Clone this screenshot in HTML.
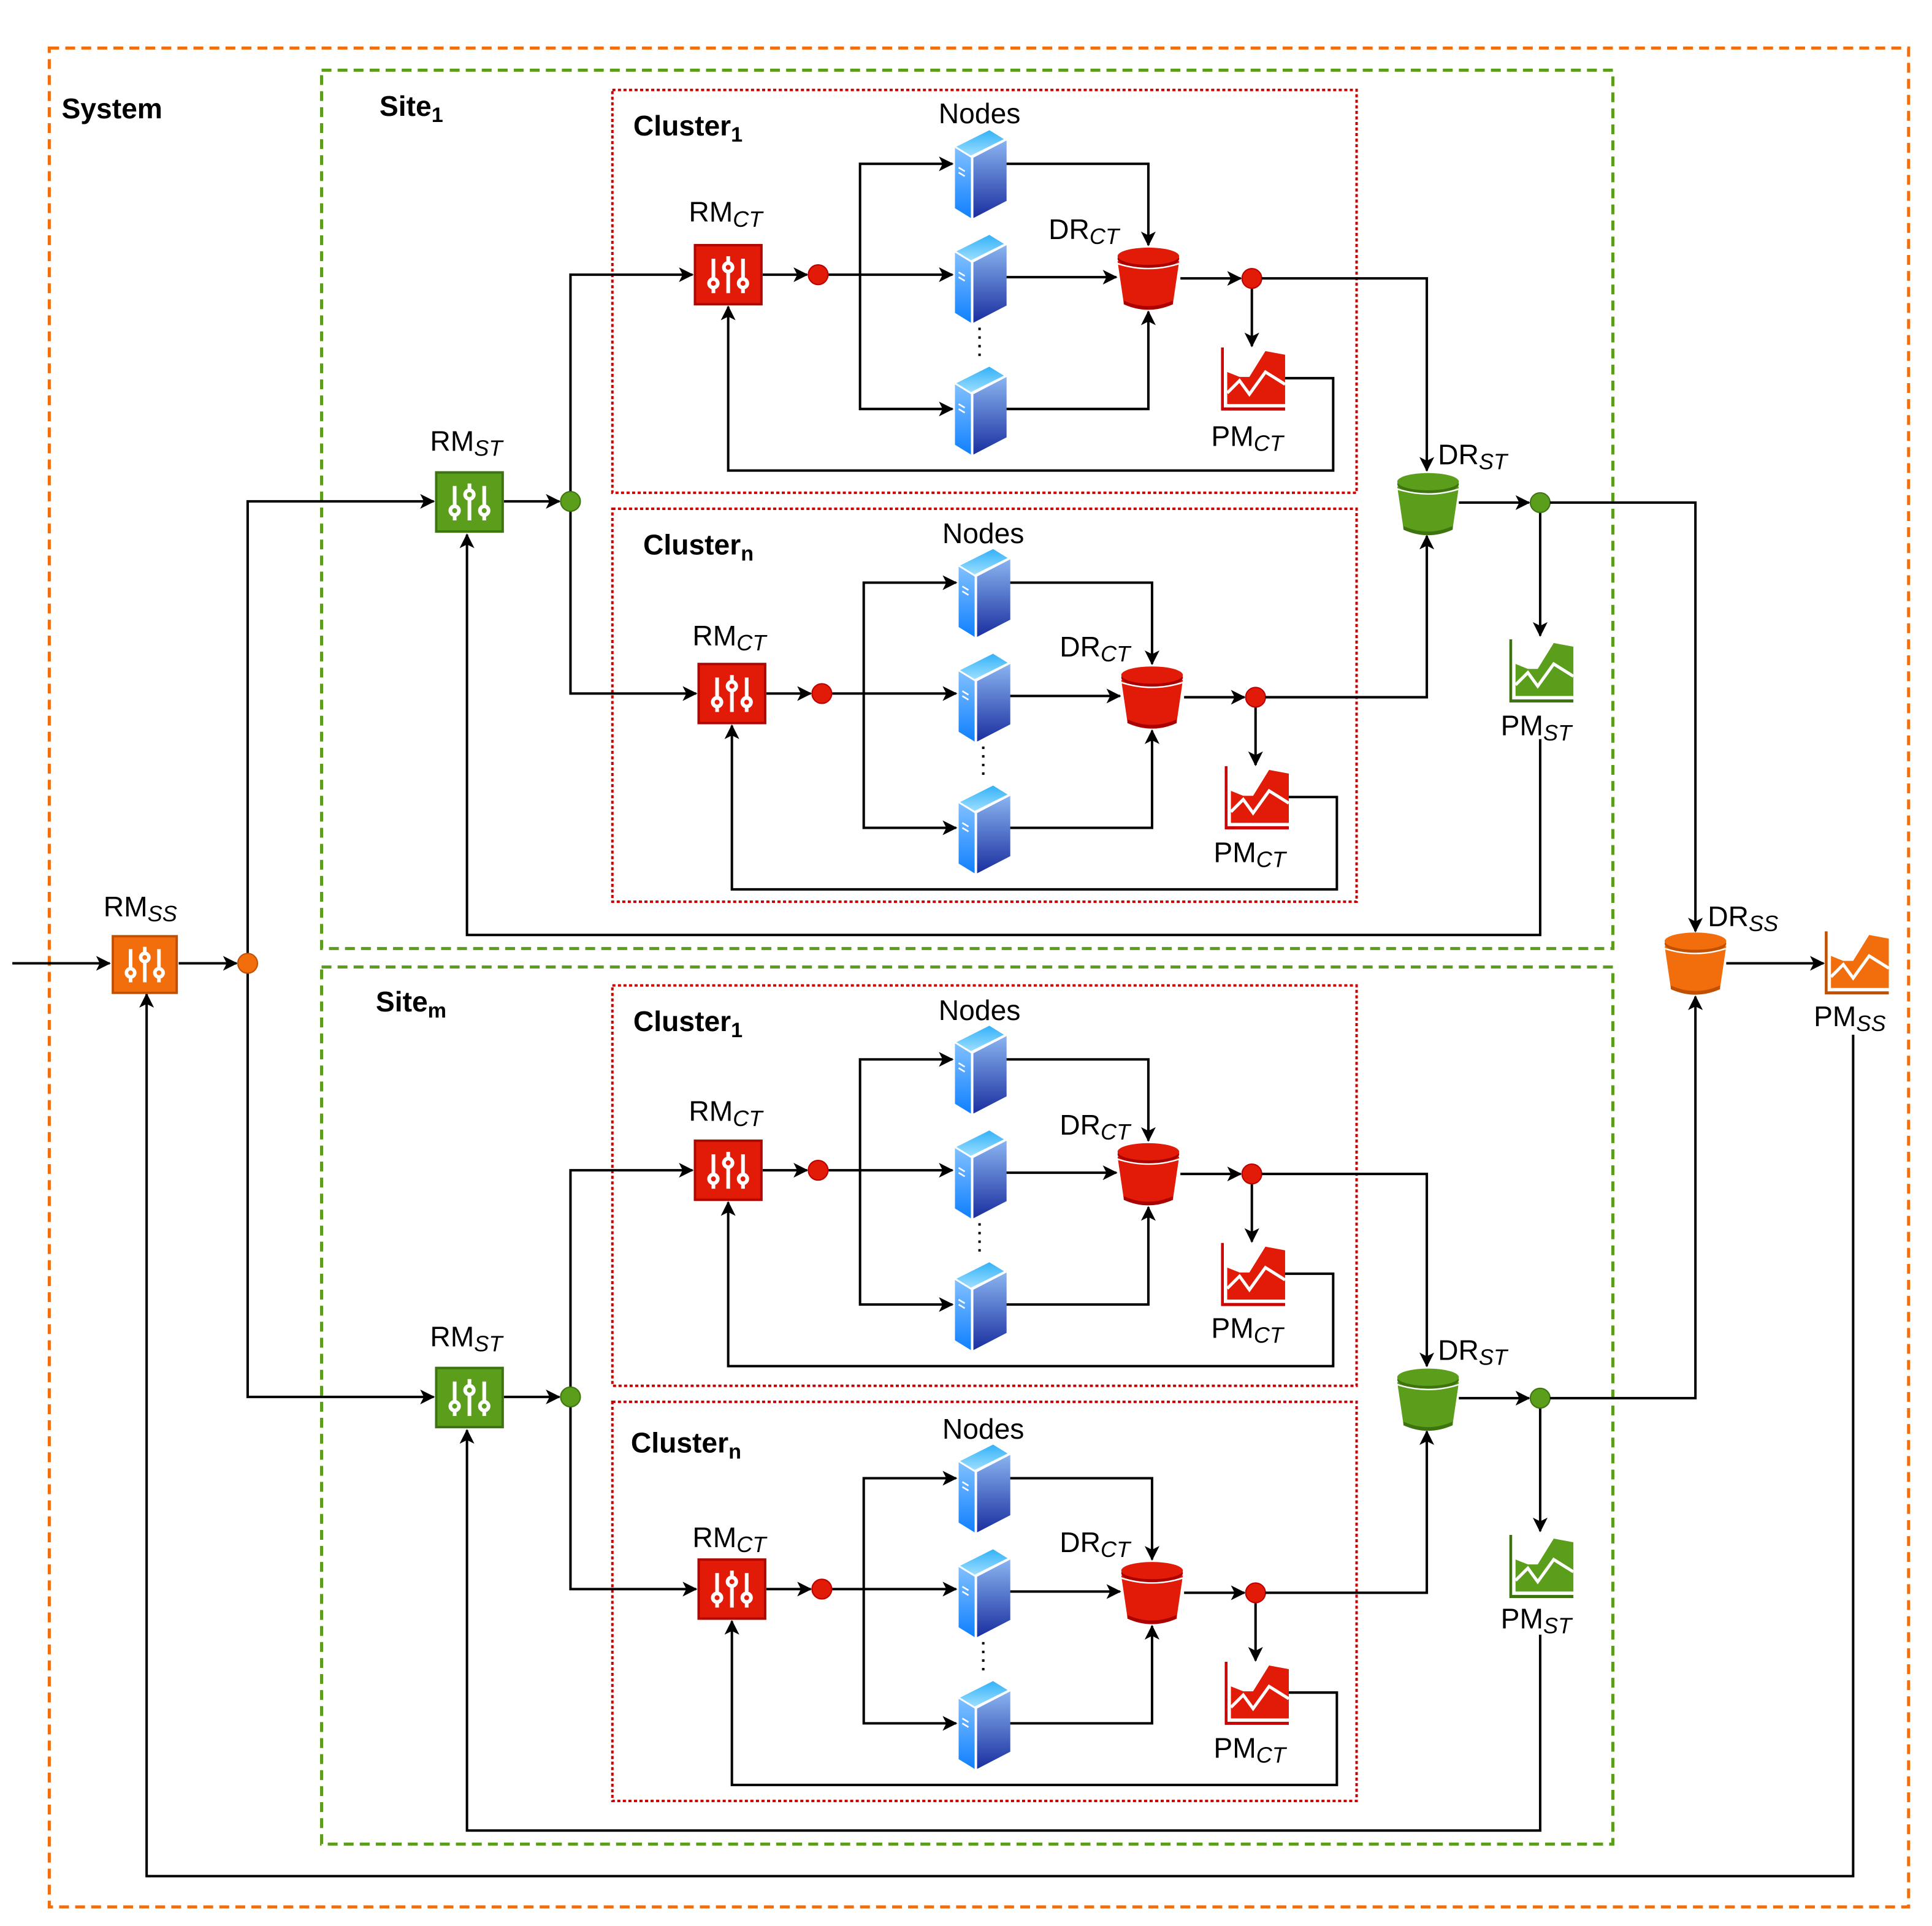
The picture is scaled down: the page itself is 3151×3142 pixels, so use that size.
<!DOCTYPE html>
<html><head><meta charset="utf-8"><style>
html,body{margin:0;padding:0;background:#fff}
svg{display:block}
text{font-family:"Liberation Sans",sans-serif;fill:#000}
.lb{font-size:23px}
.bd{font-size:23px;font-weight:bold}
.sub{font-size:18px;font-style:italic}
.bs{font-size:17px;font-weight:bold}
.ln{fill:none;stroke:#000;stroke-width:2}
.ar{fill:none;stroke:#000;stroke-width:2;marker-end:url(#ah)}
.cb{fill:none;stroke:#c00;stroke-width:2;stroke-dasharray:2.5 2}
</style></head><body>
<svg width="3151" height="3142" viewBox="0 0 1568 1563.5" preserveAspectRatio="none" xmlns="http://www.w3.org/2000/svg">
<defs>
<marker id="ah" markerUnits="userSpaceOnUse" markerWidth="12" markerHeight="12" refX="11" refY="6" orient="auto"><path d="M0,0 L12,6 L0,12 L3,6 Z" fill="#000"/></marker>
<linearGradient id="gs" x1="0" y1="0" x2="0" y2="1"><stop offset="0" stop-color="#8ab4f0"/><stop offset="1" stop-color="#1a2fa0"/></linearGradient>
<linearGradient id="gl" x1="0" y1="0" x2="0" y2="1"><stop offset="0" stop-color="#80c0ff"/><stop offset="1" stop-color="#1080ff"/></linearGradient>
<linearGradient id="gt" x1="0" y1="0" x2="0" y2="1"><stop offset="0" stop-color="#30b0f8"/><stop offset="1" stop-color="#a0e0ff"/></linearGradient>
<symbol id="srv" viewBox="0 0 42 72">
<polygon points="0,14 28,0 41,8 13,22" fill="url(#gt)" stroke="#fff" stroke-width="1.2"/>
<polygon points="0,15 13,23 13,72 0,64" fill="url(#gl)"/>
<polygon points="15,23 42,9 42,58 15,72" fill="url(#gs)"/>
<line x1="3" y1="31" x2="8" y2="34" stroke="#fff" stroke-width="1.3"/>
<line x1="3" y1="35" x2="8" y2="38" stroke="#fff" stroke-width="1.3"/>
</symbol>
<symbol id="rmR" viewBox="0 0 56 50"><rect x="1" y="1" width="54" height="48" fill="#e21a08" stroke="#b00800" stroke-width="2"/><g stroke="#fff" stroke-width="3" fill="#e21a08"><line x1="16" y1="12" x2="16" y2="40"/><line x1="28" y1="10" x2="28" y2="40"/><line x1="40" y1="12" x2="40" y2="40"/><circle cx="16" cy="32" r="3.5"/><circle cx="28" cy="19" r="3.5"/><circle cx="40" cy="32" r="3.5"/></g></symbol>
<symbol id="rmG" viewBox="0 0 56 50"><rect x="1" y="1" width="54" height="48" fill="#5a9e1c" stroke="#3d7410" stroke-width="2"/><g stroke="#fff" stroke-width="3" fill="#5a9e1c"><line x1="16" y1="12" x2="16" y2="40"/><line x1="28" y1="10" x2="28" y2="40"/><line x1="40" y1="12" x2="40" y2="40"/><circle cx="16" cy="32" r="3.5"/><circle cx="28" cy="19" r="3.5"/><circle cx="40" cy="32" r="3.5"/></g></symbol>
<symbol id="rmO" viewBox="0 0 56 50"><rect x="1" y="1" width="54" height="48" fill="#f26d0c" stroke="#c05000" stroke-width="2"/><g stroke="#fff" stroke-width="3" fill="#f26d0c"><line x1="16" y1="12" x2="16" y2="40"/><line x1="28" y1="10" x2="28" y2="40"/><line x1="40" y1="12" x2="40" y2="40"/><circle cx="16" cy="32" r="3.5"/><circle cx="28" cy="19" r="3.5"/><circle cx="40" cy="32" r="3.5"/></g></symbol>
<symbol id="bkR" viewBox="0 0 52 52"><path d="M1,12 L6,46 Q26,55 46,46 L51,12 Z" fill="#e21a08"/><path d="M6,44 Q26,53 46,44 L46,47 Q26,56 6,47Z" fill="#a00"/><ellipse cx="26" cy="10" rx="25" ry="8" fill="#a00"/><ellipse cx="26" cy="8" rx="25" ry="7" fill="#e21a08"/><path d="M1,14 Q26,22 51,14" stroke="#fff" stroke-width="1.2" fill="none"/></symbol>
<symbol id="bkG" viewBox="0 0 52 52"><path d="M1,12 L6,46 Q26,55 46,46 L51,12 Z" fill="#5a9e1c"/><path d="M6,44 Q26,53 46,44 L46,47 Q26,56 6,47Z" fill="#3d7410"/><ellipse cx="26" cy="10" rx="25" ry="8" fill="#3d7410"/><ellipse cx="26" cy="8" rx="25" ry="7" fill="#5a9e1c"/><path d="M1,14 Q26,22 51,14" stroke="#fff" stroke-width="1.2" fill="none"/></symbol>
<symbol id="bkO" viewBox="0 0 52 52"><path d="M1,12 L6,46 Q26,55 46,46 L51,12 Z" fill="#f26d0c"/><path d="M6,44 Q26,53 46,44 L46,47 Q26,56 6,47Z" fill="#c05000"/><ellipse cx="26" cy="10" rx="25" ry="8" fill="#c05000"/><ellipse cx="26" cy="8" rx="25" ry="7" fill="#f26d0c"/><path d="M1,14 Q26,22 51,14" stroke="#fff" stroke-width="1.2" fill="none"/></symbol>
<symbol id="chR" viewBox="0 0 52 52"><path d="M1,0 V50 H52" stroke="#c00" stroke-width="2.5" fill="none"/><path d="M5,45 V20 L15,24 L23,24 L36,3 L52,6 V46 H5Z" fill="#e21a08"/><path d="M5,37 L15,27 L23,38 L36,20 L52,30" stroke="#fff" stroke-width="2.5" fill="none"/></symbol>
<symbol id="chG" viewBox="0 0 52 52"><path d="M1,0 V50 H52" stroke="#3d7410" stroke-width="2.5" fill="none"/><path d="M5,45 V20 L15,24 L23,24 L36,3 L52,6 V46 H5Z" fill="#5a9e1c"/><path d="M5,37 L15,27 L23,38 L36,20 L52,30" stroke="#fff" stroke-width="2.5" fill="none"/></symbol>
<symbol id="chO" viewBox="0 0 52 52"><path d="M1,0 V50 H52" stroke="#c05000" stroke-width="2.5" fill="none"/><path d="M5,45 V20 L15,24 L23,24 L36,3 L52,6 V46 H5Z" fill="#f26d0c"/><path d="M5,37 L15,27 L23,38 L36,20 L52,30" stroke="#fff" stroke-width="2.5" fill="none"/></symbol>
</defs>

<rect x="40" y="39" width="1509" height="1509" fill="none" stroke="#f26d0c" stroke-width="2.5" stroke-dasharray="8 5"/>
<rect x="261" y="57" width="1048" height="713" fill="none" stroke="#5a9e1c" stroke-width="2.5" stroke-dasharray="8 5"/>
<rect x="261" y="785" width="1048" height="712" fill="none" stroke="#5a9e1c" stroke-width="2.5" stroke-dasharray="8 5"/>
<rect class="cb" x="497" y="73" width="604" height="327"/>
<rect class="cb" x="497" y="413" width="604" height="319"/>
<rect class="cb" x="497" y="800" width="604" height="325"/>
<rect class="cb" x="497" y="1138" width="604" height="324"/>
<text x="50" y="96" class="bd">System</text>
<text x="308" y="94" class="bd">Site<tspan class="bs" dy="5">1</tspan></text>
<text x="305" y="821" class="bd">Site<tspan class="bs" dy="5">m</tspan></text>

<g id="c1">
<path class="ar" d="M619,223 H655"/><path class="ar" d="M672,223 H773"/>
<path class="ar" d="M698,223 V133 H773"/><path class="ar" d="M698,223 V332 H773"/>
<path class="ar" d="M815,133 H932 V199"/><path class="ar" d="M815,225 H906"/>
<path class="ar" d="M815,332 H932 V253"/><path class="ar" d="M958,226 H1007"/>
<path class="ar" d="M1016,234 V281"/><path class="ar" d="M1042,307 H1082 V382 H591 V249"/>
<path d="M795,266 V293" stroke="#000" stroke-width="2" stroke-dasharray="2 5"/>
<use href="#rmR" x="563" y="198" width="56" height="50"/>
<circle cx="664" cy="223" r="8" fill="#e21a08" stroke="#b00" stroke-width="1"/>
<circle cx="1016" cy="226" r="8" fill="#e21a08" stroke="#b00" stroke-width="1"/>
<use href="#srv" x="775" y="105" width="42" height="72"/>
<use href="#srv" x="775" y="190" width="42" height="72"/>
<use href="#srv" x="775" y="297" width="42" height="72"/>
<use href="#bkR" x="906" y="200" width="52" height="52"/>
<use href="#chR" x="991" y="282" width="52" height="52"/>
</g>
<text x="514" y="110" class="bd">Cluster<tspan class="bs" dy="5">1</tspan></text>
<text x="795" y="100" class="lb" text-anchor="middle">Nodes</text>
<text x="559" y="180" class="lb">RM<tspan class="sub" dy="4">CT</tspan></text>
<text x="851" y="194" class="lb">DR<tspan class="sub" dy="4">CT</tspan></text>
<text x="983" y="362" class="lb">PM<tspan class="sub" dy="4">CT</tspan></text>

<use href="#c1" transform="translate(3,340)"/>
<text x="522" y="450" class="bd">Cluster<tspan class="bs" dy="5">n</tspan></text>
<text x="798" y="441" class="lb" text-anchor="middle">Nodes</text>
<text x="562" y="524" class="lb">RM<tspan class="sub" dy="4">CT</tspan></text>
<text x="860" y="533" class="lb">DR<tspan class="sub" dy="4">CT</tspan></text>
<text x="985" y="700" class="lb">PM<tspan class="sub" dy="4">CT</tspan></text>

<use href="#c1" transform="translate(0,727)"/>
<text x="514" y="837" class="bd">Cluster<tspan class="bs" dy="5">1</tspan></text>
<text x="795" y="828" class="lb" text-anchor="middle">Nodes</text>
<text x="559" y="910" class="lb">RM<tspan class="sub" dy="4">CT</tspan></text>
<text x="860" y="921" class="lb">DR<tspan class="sub" dy="4">CT</tspan></text>
<text x="983" y="1086" class="lb">PM<tspan class="sub" dy="4">CT</tspan></text>

<use href="#c1" transform="translate(3,1067)"/>
<text x="512" y="1179" class="bd">Cluster<tspan class="bs" dy="5">n</tspan></text>
<text x="798" y="1168" class="lb" text-anchor="middle">Nodes</text>
<text x="562" y="1256" class="lb">RM<tspan class="sub" dy="4">CT</tspan></text>
<text x="860" y="1260" class="lb">DR<tspan class="sub" dy="4">CT</tspan></text>
<text x="985" y="1427" class="lb">PM<tspan class="sub" dy="4">CT</tspan></text>

<g id="s1">
<path class="ar" d="M409,407 H454"/>
<path class="ar" d="M463,407 V223 H562"/><path class="ar" d="M463,407 V563 H565"/>
<path class="ar" d="M1024,226 H1158 V382"/><path class="ar" d="M1027,566 H1158 V435"/>
<path class="ar" d="M1184,408 H1241"/>
<path class="ar" d="M1250,416 V516"/>
<path class="ar" d="M1250,600 V759 H379 V434"/>
<use href="#rmG" x="353" y="382" width="56" height="51"/>
<circle cx="463" cy="407" r="8" fill="#5a9e1c" stroke="#3d7410" stroke-width="1"/>
<use href="#bkG" x="1133" y="383" width="52" height="52"/>
<circle cx="1250" cy="408" r="8" fill="#5a9e1c" stroke="#3d7410" stroke-width="1"/>
<use href="#chG" x="1225" y="519" width="52" height="52"/>
</g>
<text x="349" y="366" class="lb">RM<tspan class="sub" dy="4">ST</tspan></text>
<text x="1167" y="377" class="lb">DR<tspan class="sub" dy="4">ST</tspan></text>
<text x="1218" y="597" class="lb">PM<tspan class="sub" dy="4">ST</tspan></text>
<use href="#s1" transform="translate(0,727)"/>
<text x="349" y="1093" class="lb">RM<tspan class="sub" dy="4">ST</tspan></text>
<text x="1167" y="1104" class="lb">DR<tspan class="sub" dy="4">ST</tspan></text>
<text x="1218" y="1322" class="lb">PM<tspan class="sub" dy="4">ST</tspan></text>

<path class="ar" d="M1258,408 H1376 V756"/>
<path class="ar" d="M1258,1135 H1376 V809"/>
<path class="ar" d="M1401,782 H1480"/>
<path class="ar" d="M1504,840 V1523 H119 V807"/>
<path class="ar" d="M10,782 H89"/>
<path class="ar" d="M145,782 H192"/>
<path class="ar" d="M201,782 V407 H352"/>
<path class="ar" d="M201,782 V1134 H352"/>
<use href="#rmO" x="90" y="759" width="55" height="48"/>
<circle cx="201" cy="782" r="8" fill="#f26d0c" stroke="#c05000" stroke-width="1"/>
<use href="#bkO" x="1350" y="756" width="52" height="52"/>
<use href="#chO" x="1481" y="756" width="52" height="52"/>
<text x="84" y="744" class="lb">RM<tspan class="sub" dy="4">SS</tspan></text>
<text x="1386" y="752" class="lb">DR<tspan class="sub" dy="4">SS</tspan></text>
<text x="1472" y="833" class="lb">PM<tspan class="sub" dy="4">SS</tspan></text>
</svg>
</body></html>
